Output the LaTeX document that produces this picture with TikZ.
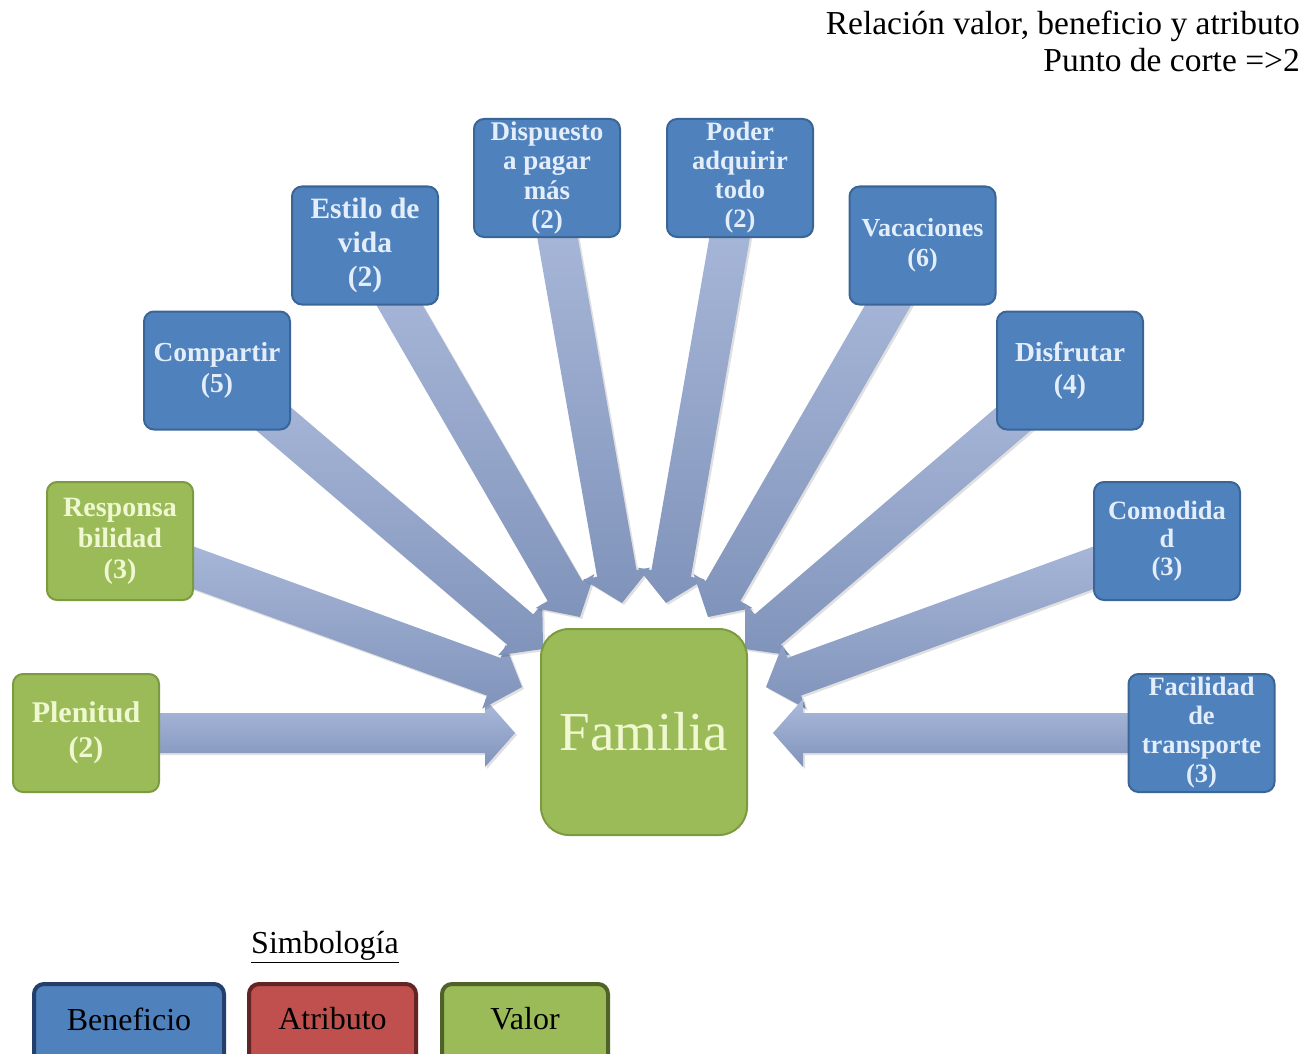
\documentclass[tikz,border=0pt]{standalone}
\usepackage{fontspec}
\setmainfont{Liberation Serif}
\usetikzlibrary{calc,backgrounds}

\definecolor{benfill}{HTML}{4F81BD}
\definecolor{benline}{HTML}{3A6597}
\definecolor{benedge}{HTML}{24406A}
\definecolor{valfill}{HTML}{9BBB59}
\definecolor{valline}{HTML}{7C9A3F}
\definecolor{valedge}{HTML}{4F6228}
\definecolor{atrfill}{HTML}{C0504D}
\definecolor{atredge}{HTML}{632523}
\definecolor{arrlight}{HTML}{ACBBDC}
\definecolor{arrdark}{HTML}{8093BA}
\definecolor{bentext}{HTML}{E3EEFA}
\definecolor{valtext}{HTML}{F0F8D2}

\newcommand\boxfont[2]{\fontsize{#1}{#2}\selectfont\bfseries}

\tikzset{
  box/.style={rounded corners=10pt, line width=2pt, inner sep=0pt, align=center,
              minimum width=146pt, minimum height=118pt},
  ben/.style={box, fill=benfill, draw=benline, text=bentext},
  val/.style={box, fill=valfill, draw=valline, text=valtext},
  arrowbody/.style={top color=arrlight, bottom color=arrdark,
     preaction={fill=black, opacity=0.12, transform canvas={xshift=2pt,yshift=-2pt}}},
  legendbox/.style={rounded corners=10pt, line width=4pt, inner sep=0pt,
                    minimum height=100pt},
  legendtext/.style={font=\fontsize{32}{36}\selectfont, text=black},
  titletext/.style={font=\fontsize{33.5}{37}\selectfont, text=black, inner sep=0pt}
}

% block arrow from the centre of a box to a tip point
\newcommand\fatarrow[2]{%
  \coordinate (h-#1) at ($(#2)!30pt!(#1.center)$);
  \path[arrowbody]
    ($(#1.center)!20pt!90:(#2)$) -- ($(h-#1)!20pt!90:(#2)$) --
    ($(h-#1)!34pt!90:(#2)$) -- (#2) -- ($(h-#1)!34pt!-90:(#2)$) --
    ($(h-#1)!20pt!-90:(#2)$) -- ($(#1.center)!20pt!-90:(#2)$) -- cycle;}

\begin{document}
\begin{tikzpicture}[x=1pt,y=-1pt]
\useasboundingbox (0,0) rectangle (1315,1054);
\clip (0,0) rectangle (1315,1054);

% heading
\node[titletext, anchor=base east] (title1) at (1300,35) {Relación valor, beneficio y atributo};
\node[titletext, anchor=base east] (title2) at (1300,72) {Punto de corte =>2};

% central value
\node[val, rounded corners=28pt, minimum width=206pt, minimum height=206pt,
      font=\fontsize{55}{60}\selectfont] (fam) at (644,732) {Familia};

% surrounding boxes
\node[val, font=\boxfont{30}{35}] (plen) at (86,733) {Plenitud\\(2)};
\node[val, font=\boxfont{28}{31}] (resp) at (120,541) {Responsa\\bilidad\\(3)};
\node[ben, font=\boxfont{27.5}{31}] (comp) at (217,370.5) {Compartir\\(5)};
\node[ben, font=\boxfont{29.5}{34}] (esti) at (365,245.5) {Estilo de\\vida\\(2)};
\node[ben, font=\boxfont{27}{29.5}] (disp) at (547,178) {Dispuesto\\a pagar\\más\\(2)};
\node[ben, font=\boxfont{26.5}{29}] (pode) at (740,178) {Poder\\adquirir\\todo\\(2)};
\node[ben, font=\boxfont{26}{30}] (vaca) at (922.5,245.5) {Vacaciones\\(6)};
\node[ben, font=\boxfont{27.5}{32}] (disf) at (1070,370.5) {Disfrutar\\(4)};
\node[ben, font=\boxfont{26.5}{28}] (como) at (1167,541) {Comodida\\d\\(3)};
\node[ben, font=\boxfont{26.5}{29}] (faci) at (1201.5,733) {Facilidad\\de\\transporte\\(3)};

% arrow tips around the central box
\coordinate (t1) at (515,733);
\coordinate (t2) at (522,687);
\coordinate (t3) at (543,649);
\coordinate (t4) at (580,617);
\coordinate (t5) at (622,603);
\coordinate (t6) at (666,603);
\coordinate (t7) at (708,617);
\coordinate (t8) at (745,649);
\coordinate (t9) at (766,687);
\coordinate (t10) at (773,733);

\begin{scope}[on background layer]
  \fatarrow{plen}{t1}
  \fatarrow{resp}{t2}
  \fatarrow{comp}{t3}
  \fatarrow{esti}{t4}
  \fatarrow{disp}{t5}
  \fatarrow{pode}{t6}
  \fatarrow{vaca}{t7}
  \fatarrow{disf}{t8}
  \fatarrow{como}{t9}
  \fatarrow{faci}{t10}
\end{scope}

% legend
\node[legendtext] (simb) at (325,947) {\underline{Simbología}};
\node[legendbox, fill=benfill, draw=benedge, minimum width=190pt] (lben) at (129,1034) {};
\node[legendtext] at ([yshift=15pt]lben.center) {Beneficio};
\node[legendbox, fill=atrfill, draw=atredge, minimum width=167pt] (latr) at (332.5,1034) {};
\node[legendtext] at ([yshift=15pt]latr.center) {Atributo};
\node[legendbox, fill=valfill, draw=valedge, minimum width=166pt] (lval) at (525,1034) {};
\node[legendtext] at ([yshift=15pt]lval.center) {Valor};
\end{tikzpicture}
\end{document}
